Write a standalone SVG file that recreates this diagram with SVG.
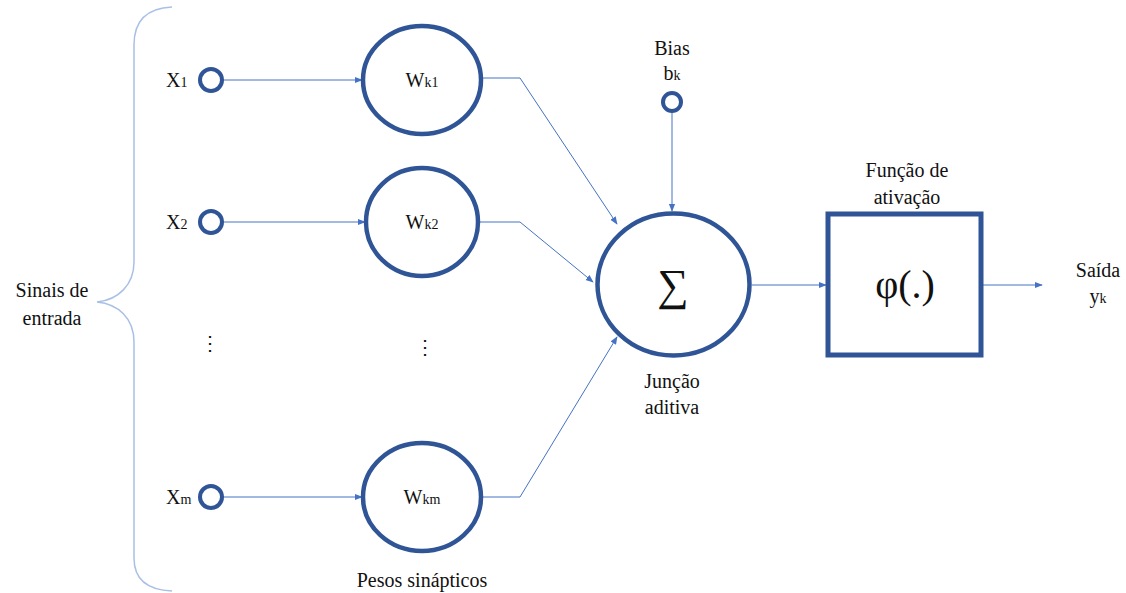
<svg xmlns="http://www.w3.org/2000/svg" width="1126" height="593" viewBox="0 0 1126 593">
<defs>
<marker id="ah" viewBox="0 0 10 10" refX="9" refY="5" markerWidth="8" markerHeight="8" markerUnits="userSpaceOnUse" orient="auto">
<path d="M0,1 L10,5 L0,9 z" fill="#4472C4"/>
</marker>
</defs>
<rect width="1126" height="593" fill="#fff"/>
<g id="brace">
<path fill="none" stroke="#A9C0E6" stroke-width="1.5" d="M172,7 C148,8 134,20 134,45 L134,262 C134,285 118,300 97,302 C118,304 134,318 134,342 L134,558 C134,580 148,590 172,591"/>
<text font-family="Liberation Serif" font-size="20" fill="#111" text-anchor="middle" x="52" y="297">Sinais de</text>
<text font-family="Liberation Serif" font-size="20" fill="#111" text-anchor="middle" x="52" y="325">entrada</text>
</g>
<g id="connectors" fill="none" stroke="#4472C4" stroke-width="1" marker-end="url(#ah)">
<line x1="222" y1="80" x2="362" y2="80"/>
<line x1="222" y1="222" x2="365" y2="222"/>
<line x1="222" y1="497" x2="362" y2="497"/>
<polyline points="482,78 520,78 617,224"/>
<polyline points="478,222 520,222 593,282"/>
<polyline points="482,497 520,497 617,337"/>
<line x1="672" y1="112" x2="672" y2="211"/>
<line x1="752" y1="285" x2="826" y2="285"/>
<line x1="982" y1="285" x2="1042" y2="285"/>
</g>
<g id="x1">
<circle fill="none" stroke="#2F5597" stroke-width="4" cx="211" cy="80" r="11"/>
<text font-family="Liberation Serif" font-size="20" fill="#111" x="166" y="87">X<tspan font-size="14">1</tspan></text>
</g>
<g id="x2">
<circle fill="none" stroke="#2F5597" stroke-width="4" cx="211" cy="222" r="11"/>
<text font-family="Liberation Serif" font-size="20" fill="#111" x="166" y="229">X<tspan font-size="14">2</tspan></text>
</g>
<g id="dots">
<text font-family="Liberation Serif" font-size="20" fill="#111" text-anchor="middle" x="210" y="350">⋮</text>
<text font-family="Liberation Serif" font-size="20" fill="#111" text-anchor="middle" x="425" y="354">⋮</text>
</g>
<g id="xm">
<circle fill="none" stroke="#2F5597" stroke-width="4" cx="211" cy="497" r="11"/>
<text font-family="Liberation Serif" font-size="20" fill="#111" x="166" y="504">X<tspan font-size="14">m</tspan></text>
</g>
<g id="wk1">
<ellipse fill="none" stroke="#2F5597" stroke-width="4.5" cx="422" cy="80" rx="59" ry="54"/>
<text font-family="Liberation Serif" font-size="20" fill="#111" text-anchor="middle" x="422" y="87">W<tspan font-size="14">k1</tspan></text>
</g>
<g id="wk2">
<ellipse fill="none" stroke="#2F5597" stroke-width="4.5" cx="422" cy="222" rx="56" ry="54"/>
<text font-family="Liberation Serif" font-size="20" fill="#111" text-anchor="middle" x="422" y="229">W<tspan font-size="14">k2</tspan></text>
</g>
<g id="wkm">
<ellipse fill="none" stroke="#2F5597" stroke-width="4.5" cx="422" cy="497" rx="59" ry="54"/>
<text font-family="Liberation Serif" font-size="20" fill="#111" text-anchor="middle" x="422" y="504">W<tspan font-size="14">km</tspan></text>
</g>
<g id="pesos">
<text font-family="Liberation Serif" font-size="20" fill="#111" text-anchor="middle" x="422" y="587">Pesos sinápticos</text>
</g>
<g id="bias">
<circle fill="none" stroke="#2F5597" stroke-width="4" cx="672" cy="102" r="9"/>
<text font-family="Liberation Serif" font-size="20" fill="#111" text-anchor="middle" x="672" y="55">Bias</text>
<text font-family="Liberation Serif" font-size="20" fill="#111" text-anchor="middle" x="672" y="80">b<tspan font-size="14">k</tspan></text>
</g>
<g id="sum">
<ellipse fill="none" stroke="#2F5597" stroke-width="4.5" cx="673.5" cy="284.5" rx="76" ry="71"/>
<text font-family="Liberation Serif" font-size="44" fill="#111" text-anchor="middle" x="673" y="300">∑</text>
<text font-family="Liberation Serif" font-size="20" fill="#111" text-anchor="middle" x="672" y="388">Junção</text>
<text font-family="Liberation Serif" font-size="20" fill="#111" text-anchor="middle" x="672" y="414">aditiva</text>
</g>
<g id="activation">
<rect fill="none" stroke="#2F5597" stroke-width="5" x="828" y="214" width="153" height="141"/>
<text font-family="Liberation Serif" font-size="40" fill="#111" text-anchor="middle" x="905" y="298">φ(.)</text>
<text font-family="Liberation Serif" font-size="20" fill="#111" text-anchor="middle" x="907" y="177">Função de</text>
<text font-family="Liberation Serif" font-size="20" fill="#111" text-anchor="middle" x="907" y="204">ativação</text>
</g>
<g id="output">
<text font-family="Liberation Serif" font-size="20" fill="#111" text-anchor="middle" x="1098" y="277">Saída</text>
<text font-family="Liberation Serif" font-size="20" fill="#111" text-anchor="middle" x="1098" y="303">y<tspan font-size="14">k</tspan></text>
</g>
</svg>
